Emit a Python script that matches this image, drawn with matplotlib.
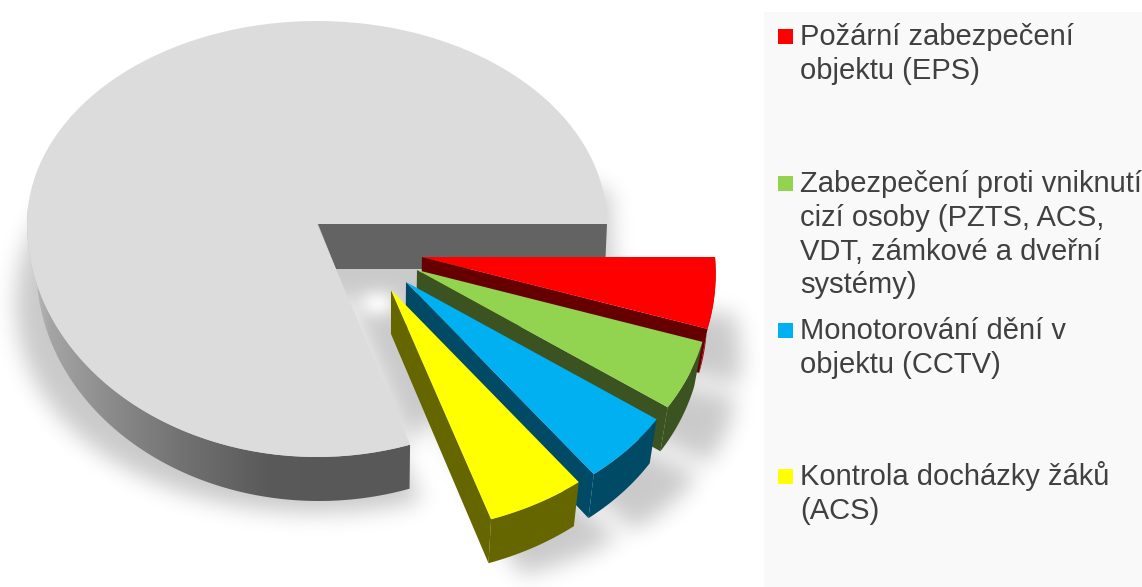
import numpy as np
import matplotlib
matplotlib.use("Agg")
import matplotlib.pyplot as plt
from matplotlib.colors import LinearSegmentedColormap
from matplotlib.patches import Polygon, Rectangle
from matplotlib.path import Path

# shares in percent
restShare = 80.2
shares = [4.8, 4.8, 5.0, 5.2]
labels = [
    ["Požární zabezpečení", "objektu (EPS)"],
    ["Zabezpečení proti vniknutí", "cizí osoby (PZTS, ACS,", "VDT, zámkové a dveřní", "systémy)"],
    ["Monotorování dění v", "objektu (CCTV)"],
    ["Kontrola docházky žáků", "(ACS)"],
]
topColors = ["#ff0000", "#92d450", "#00b0f0", "#ffff00"]
edgeColors = ["#660000", "#3b5320", "#004a66", "#666600"]
rimColors = ["#b00000", "#3b5320", "#004a66", "#666600"]

W, H = 1142, 587
DEPTH = 44
# tip of each pulled out slice
tips = [(422, 257), (417, 270), (406, 282), (391, 290)]
legendY = [45, 192, 339, 485]

plt.rcParams["font.family"] = ["Liberation Sans", "DejaVu Sans"]


def arc(cx, cy, rx, ryUp, ryDown, a, b):
    t = np.radians(np.linspace(a, b, 120))
    s = np.sin(t)
    return np.column_stack([cx + rx * np.cos(t), cy + s * np.where(s > 0, ryDown, ryUp)])


def sliceArc(tip, a, b):
    # slices nearer the viewer look a bit longer
    t = np.radians(np.linspace(a, b, 60))
    r = 293 + 20 * np.sin(t)
    return np.column_stack([tip[0] + r * np.cos(t), tip[1] + 242 * np.sin(t)])


def drop(pts):
    # bottom edge of the extrusion, slightly narrower because of perspective
    pts = np.asarray(pts, dtype=float)
    return np.column_stack([pts[:, 0] - 0.026 * (pts[:, 0] - 390), pts[:, 1] + DEPTH])


def blur(a, sigma):
    r = int(3 * sigma)
    k = np.exp(-0.5 * (np.arange(-r, r + 1) / sigma) ** 2)
    k /= k.sum()
    a = np.apply_along_axis(lambda v: np.convolve(v, k, mode="same"), 0, a)
    a = np.apply_along_axis(lambda v: np.convolve(v, k, mode="same"), 1, a)
    return a


fig = plt.figure(figsize=(W / 100, H / 100), dpi=100, facecolor="white")
ax = fig.add_axes([0, 0, 1, 1])

# geometry of the pie
angles = np.cumsum([0] + [s * 3.6 for s in shares])
cx, cy, rx, ryUp, ryDown = 317, 224, 290, 203, 233
restArc = arc(cx, cy, rx, ryUp, ryDown, angles[-1], 360)
restTop = np.vstack([[cx, cy], restArc])
sliceArcs = [sliceArc(tips[i], angles[i], angles[i + 1]) for i in range(4)]

# soft shadow on the floor
yy, xx = np.mgrid[0:H, 0:W]
grid = np.column_stack([xx.ravel() + 0.5, yy.ravel() + 0.5])
mask = np.zeros(H * W)


def spread(pts):
    # the shadow widens towards the viewer
    pts = np.asarray(pts, dtype=float)
    f = 1 + 0.09 * np.clip(pts[:, 1] - 150, 0, None) / 200
    return np.column_stack([cx + (pts[:, 0] - cx) * f, pts[:, 1] + DEPTH + 12])


mask[Path(spread(restTop)).contains_points(grid)] = 1
for i in range(4):
    mask[Path(spread(np.vstack([tips[i], sliceArcs[i]]))).contains_points(grid)] = 1
gap = np.array([[336, cy + 45], [607, cy + 45], [430, 420], [409, 446]])
mask[Path(gap).contains_points(grid)] = 1
# also behind the back wall, a little to the right of it
back = np.array([[cx, 150], [610, 190], [614, 300], [cx, 300]])
mask[Path(back).contains_points(grid)] = 1
mask = blur(mask.reshape(H, W), 11)
# bright spot on the floor in the gap
glow = np.exp(-((xx - 377) / 20.0) ** 2 - ((yy - 303) / 14.0) ** 2)
shadow = np.zeros((H, W, 4))
shadow[..., 3] = mask * 0.21 * (1 - 0.85 * glow)
ax.imshow(shadow, extent=(0, W, H, 0), aspect="auto", zorder=1, interpolation="bilinear")

# legend panel
ax.add_patch(Rectangle((764, 12), W - 764, H - 12, facecolor="#f9f9f9", edgecolor="none", zorder=2))

# inner wall of the big slice
wall = np.array([[cx + 1, cy], [607, cy], [605, cy + 45], [336, cy + 45]])
ax.add_patch(Polygon(wall, facecolor="#636363", edgecolor="none", zorder=3))

# outer wall of the big slice with its gradient
lower = arc(cx, cy, rx, ryUp, ryDown, angles[-1], 185)
wallPts = np.vstack([lower, drop(lower)[::-1]])
wallPatch = Polygon(wallPts, facecolor="none", edgecolor="none", zorder=3)
ax.add_patch(wallPatch)
cmap = LinearSegmentedColormap.from_list(
    "side", [(0, "#c8c8c8"), (0.1, "#a4a4a4"), (0.3, "#8a8a8a"), (0.55, "#6f6f6f"), (0.8, "#5a5a5a"), (1, "#585858")])
grad = np.linspace(0, 1, 400).reshape(1, -1)
img = ax.imshow(grad, extent=(20, 330, H, 0), aspect="auto", cmap=cmap, zorder=3)
img.set_clip_path(wallPatch)
ax.imshow(np.full((1, 1), 1.0), extent=(329, 412, H, 0), aspect="auto", cmap=cmap, vmin=0, vmax=1, zorder=3).set_clip_path(wallPatch)

ax.add_patch(Polygon(restTop, facecolor="#dcdcdc", edgecolor="none", zorder=4))

# pulled out slices, top one first so the lower ones cover it
for i in range(4):
    a = sliceArcs[i]
    tip = np.array([tips[i]], dtype=float)
    z = 5 + i
    rim = np.vstack([a, drop(a)[::-1]])
    ax.add_patch(Polygon(rim, facecolor=rimColors[i], edgecolor="none", zorder=z))
    side = np.vstack([tip, a[-1:], drop(a[-1:]), drop(tip)])
    ax.add_patch(Polygon(side, facecolor=edgeColors[i], edgecolor="none", zorder=z))
    ax.add_patch(Polygon(np.vstack([tip, a]), facecolor=topColors[i], edgecolor="none", zorder=z))

# legend
for i in range(4):
    ax.add_patch(Rectangle((778, legendY[i] - 16), 15, 15, facecolor=topColors[i], edgecolor="none", zorder=12))
    for j, line in enumerate(labels[i]):
        ax.text(800, legendY[i] + j * 33.8, line, fontsize=21, color="#404040", va="baseline", ha="left", zorder=12)

ax.set_xlim(0, W)
ax.set_ylim(H, 0)
ax.axis("off")
fig.savefig("out.png", dpi=100)
